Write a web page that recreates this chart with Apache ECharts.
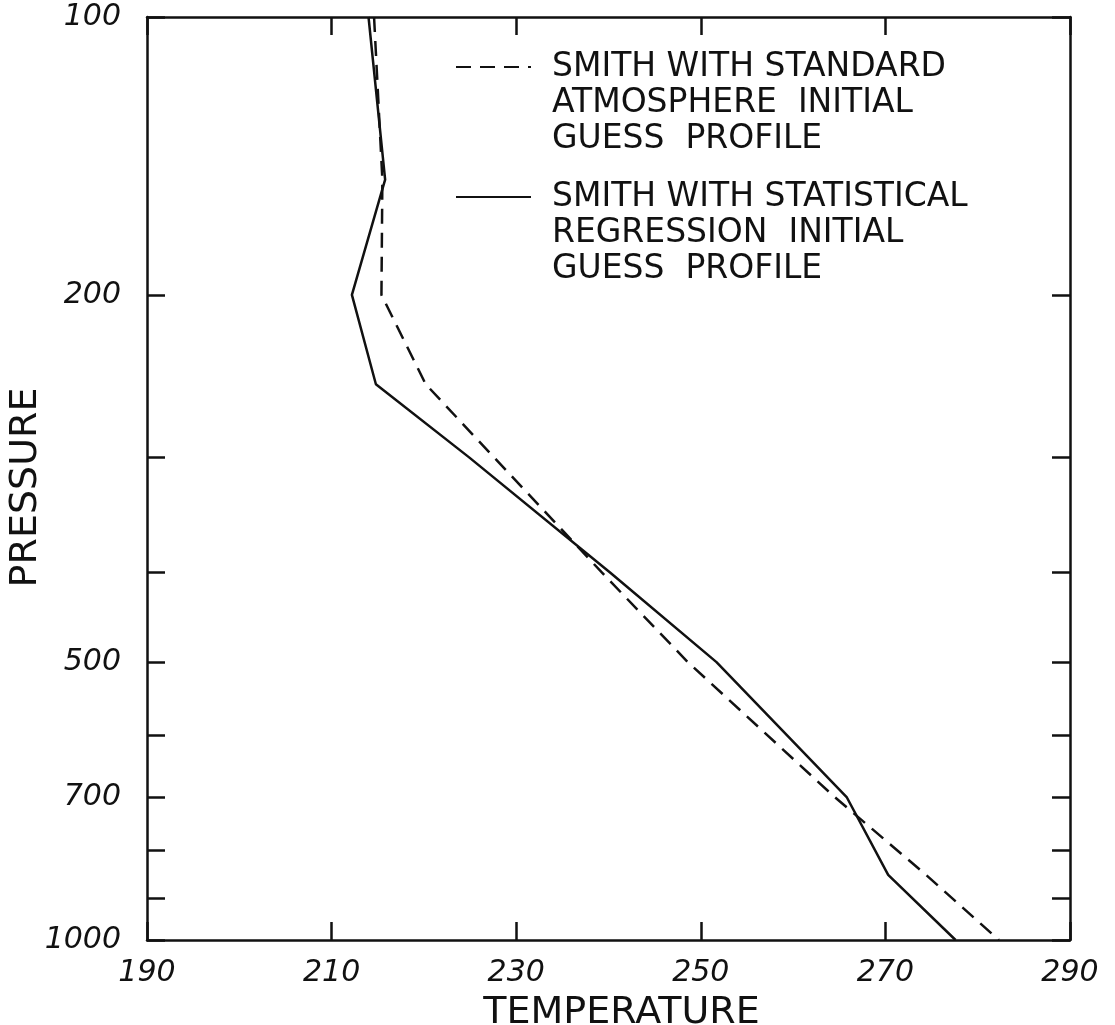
<!DOCTYPE html>
<html>
<head>
<meta charset="utf-8">
<script src="https://cdn.jsdelivr.net/npm/echarts@6/dist/echarts.min.js"></script>
<style>html,body{margin:0;padding:0;background:#fff}#chart{width:1115px;height:1025px}</style>
</head>
<body>
<div id="chart"></div>
<script>
// pressure levels (mb) and temperatures (K)
const pressureLevels = [100, 150, 200, 250, 300, 400, 500, 700, 850, 1000];
const standardAtmTemps = [214.6, 215.5, 215.4, 220.2, 227.6, 239.3, 248.6, 264.5, 274.4, 282.3];
const regressionTemps = [214.0, 215.8, 212.2, 214.8, 224.9, 240.2, 251.7, 265.8, 270.3, 277.6];
const pressureTicks = [100, 200, 300, 400, 500, 600, 700, 800, 900, 1000];
const pressureLabels = [100, 200, 500, 700, 1000];
const seriesNames = [
  'SMITH WITH STANDARD\nATMOSPHERE  INITIAL\nGUESS  PROFILE',
  'SMITH WITH STATISTICAL\nREGRESSION  INITIAL\nGUESS  PROFILE'
];

const ink = '#111';
const font = 'DejaVu Sans';

function pairs(temps){ return temps.map((t,i)=>[t, pressureLevels[i]]); }

const chart = echarts.init(document.getElementById('chart'));
const tickStyle = { show: true, inside: true, length: 18, lineStyle: { color: ink, width: 2.5 } };
const lineAxis = { show: true, lineStyle: { color: ink, width: 2.5 } };

// two blank lines in front keep the icon level with the first text line
const legendBase = {
  orient: 'vertical', left: 455, padding: 0, itemWidth: 75, itemHeight: 12,
  itemStyle: { opacity: 0 },
  formatter: name => '\n\n' + name,
  textStyle: { fontFamily: font, fontSize: 33, lineHeight: 36, color: ink, padding: [0, 0, 0, 16] }
};

const option = {
  animation: false,
  backgroundColor: '#fff',
  grid: { left: 147, top: 17, right: 45, bottom: 85, containLabel: false, outerBoundsMode: 'none' },
  legend: [
    Object.assign({ data: [seriesNames[0]], top: -23 }, legendBase),
    Object.assign({ data: [seriesNames[1]], top: 107 }, legendBase)
  ],
  xAxis: [
    { type: 'value', min: 190, max: 290, interval: 20, position: 'bottom',
      name: 'TEMPERATURE', nameLocation: 'middle', nameGap: 54, nameMoveOverlap: false,
      nameTextStyle: { fontFamily: font, fontSize: 38, color: ink, padding: [0, 0, 0, 26] },
      axisLine: lineAxis, axisTick: tickStyle, splitLine: { show: false },
      axisLabel: { fontFamily: font, fontStyle: 'italic', fontSize: 30, color: ink, margin: 18 } },
    { type: 'value', min: 190, max: 290, interval: 20, position: 'top',
      axisLine: lineAxis, axisTick: tickStyle, splitLine: { show: false }, axisLabel: { show: false } }
  ],
  yAxis: [
    { type: 'log', logBase: 10, min: 100, max: 1000, inverse: true, position: 'left',
      name: 'PRESSURE', nameLocation: 'middle', nameGap: 102, nameMoveOverlap: false,
      nameTextStyle: { fontFamily: font, fontSize: 38, color: ink, padding: [0, 18, 0, 0] },
      axisLine: lineAxis, splitLine: { show: false }, minorTick: { show: false },
      axisTick: Object.assign({}, tickStyle, { customValues: pressureTicks }),
      axisLabel: { customValues: pressureLabels, formatter: v => String(v), fontFamily: font, fontStyle: 'italic', fontSize: 30, color: ink, margin: 26 } },
    { type: 'log', logBase: 10, min: 100, max: 1000, inverse: true, position: 'right',
      axisLine: lineAxis, splitLine: { show: false },
      axisTick: Object.assign({}, tickStyle, { customValues: pressureTicks }),
      axisLabel: { show: false } }
  ],
  series: [
    { name: seriesNames[0], type: 'line', data: pairs(standardAtmTemps), symbol: 'none',
      lineStyle: { color: ink, width: 2.5, type: [15, 9] }, itemStyle: { color: ink } },
    { name: seriesNames[1], type: 'line', data: pairs(regressionTemps), symbol: 'none',
      lineStyle: { color: ink, width: 2.5 }, itemStyle: { color: ink } }
  ]
};
chart.setOption(option);
</script>
</body>
</html>
